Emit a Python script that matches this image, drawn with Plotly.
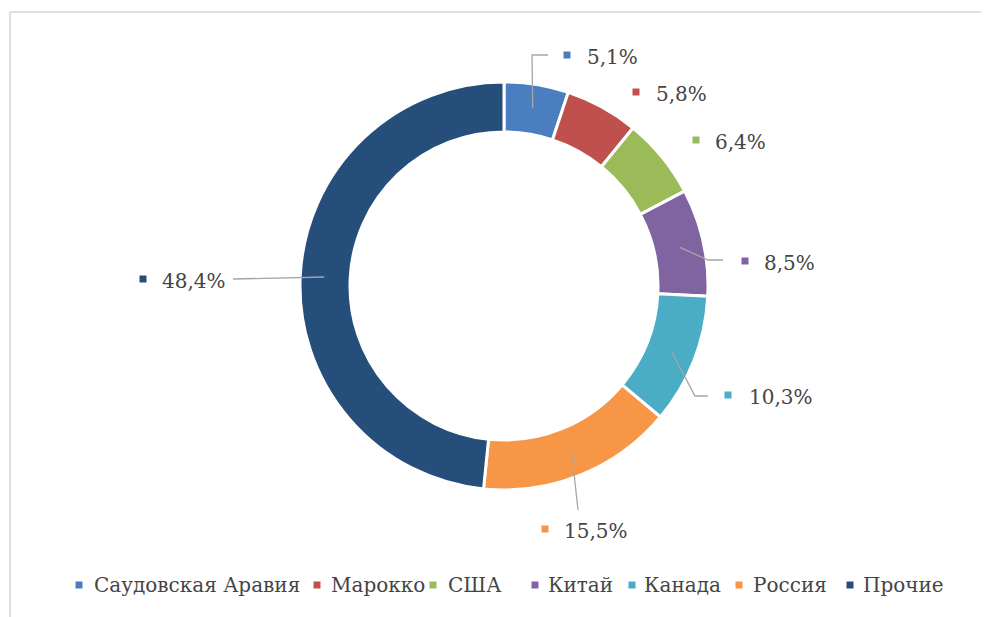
import math
import plotly.graph_objects as go

# ---------------- data ----------------
countries = ["Саудовская Аравия", "Марокко", "США", "Китай", "Канада", "Россия", "Прочие"]
shares = [5.1, 5.8, 6.4, 8.5, 10.3, 15.5, 48.4]
value_labels = ["5,1%", "5,8%", "6,4%", "8,5%", "10,3%", "15,5%", "48,4%"]
colors = ["#4a7ec0", "#c0504d", "#9bbb59", "#8064a2", "#4bacc6", "#f79646", "#254e7a"]

# ---------------- layout (page pixels) ----------------
PAGE_W, PAGE_H = 989, 617
OFF = 8  # default body margin of the html page
W, H = PAGE_W - OFF, PAGE_H - OFF
CX, CY, R_OUT = 504, 286, 204
HOLE = 0.755
LEADER_R = 180
FONT = "DejaVu Serif"
TXT = "#454545"
LBL_SIZE = 20
LEG_SIZE = 20

label_marker = [(567, 55), (636, 92), (696, 140), (745, 261), (728, 395), (545, 529), (143, 279)]
label_text_x = [585, 654, 713, 762, 747, 562, 160]
leader_path = [[(532, 55), (548, 55)], None, None,
               [(708, 260), (723, 260)], [(695, 396), (708, 396)],
               [(578, 510)], [(233, 279)]]

legend_marker_x = [79, 317, 433, 535, 632, 739, 850]
legend_text_x = [92, 329, 446, 546, 642, 751, 861]
LEGEND_Y = 585

fig = go.Figure()

fig.add_trace(go.Pie(
    labels=countries, values=shares, sort=False, direction="clockwise", rotation=0,
    hole=HOLE, textinfo="none", showlegend=False,
    marker=dict(colors=colors, line=dict(color="white", width=3)),
    domain=dict(x=[(CX - R_OUT - OFF) / W, (CX + R_OUT - OFF) / W],
                y=[(PAGE_H - CY - R_OUT) / H, (PAGE_H - CY + R_OUT) / H]),
))

shapes = []
cum = 0.0
total = sum(shares)
for i, v in enumerate(shares):
    mid = (cum + v / 2) / total * 2 * math.pi
    cum += v
    if leader_path[i] is None:
        continue
    sx = CX + LEADER_R * math.sin(mid)
    sy = CY - LEADER_R * math.cos(mid)
    pts = [(sx, sy)] + leader_path[i]
    path = "M " + " L ".join(f"{x:.1f},{y:.1f}" for x, y in pts)
    shapes.append(dict(type="path", path=path, xref="x", yref="y", layer="above",
                       line=dict(color="#a6a6a6", width=1.3)))

shapes.append(dict(type="line", xref="x", yref="y", x0=10, y0=12, x1=PAGE_W, y1=12,
                   line=dict(color="#d4d4d4", width=1.5)))
shapes.append(dict(type="line", xref="x", yref="y", x0=10, y0=12, x1=10, y1=PAGE_H,
                   line=dict(color="#d4d4d4", width=1.5)))

fig.add_trace(go.Scatter(
    x=[p[0] for p in label_marker] + legend_marker_x,
    y=[p[1] for p in label_marker] + [LEGEND_Y] * len(legend_marker_x),
    mode="markers", hoverinfo="skip", showlegend=False,
    marker=dict(symbol="square", size=7, color=colors + colors, line=dict(width=0)),
))

annotations = []
for i, t in enumerate(value_labels):
    annotations.append(dict(x=label_text_x[i], y=label_marker[i][1] + 2, xref="x", yref="y",
                            text=t, showarrow=False, xanchor="left", yanchor="middle",
                            font=dict(family=FONT, size=LBL_SIZE, color=TXT)))
for i, name in enumerate(countries):
    annotations.append(dict(x=legend_text_x[i], y=LEGEND_Y, xref="x", yref="y",
                            text=name, showarrow=False, xanchor="left", yanchor="middle",
                            font=dict(family=FONT, size=LEG_SIZE, color=TXT)))

fig.update_layout(
    width=W, height=H, autosize=False,
    margin=dict(l=0, r=0, t=0, b=0),
    font=dict(family=FONT),
    paper_bgcolor="white", plot_bgcolor="rgba(0,0,0,0)",
    xaxis=dict(range=[OFF, PAGE_W], visible=False, domain=[0, 1], fixedrange=True),
    yaxis=dict(range=[PAGE_H, OFF], visible=False, domain=[0, 1], fixedrange=True),
    shapes=shapes, annotations=annotations,
)

fig.write_html("out.html")
